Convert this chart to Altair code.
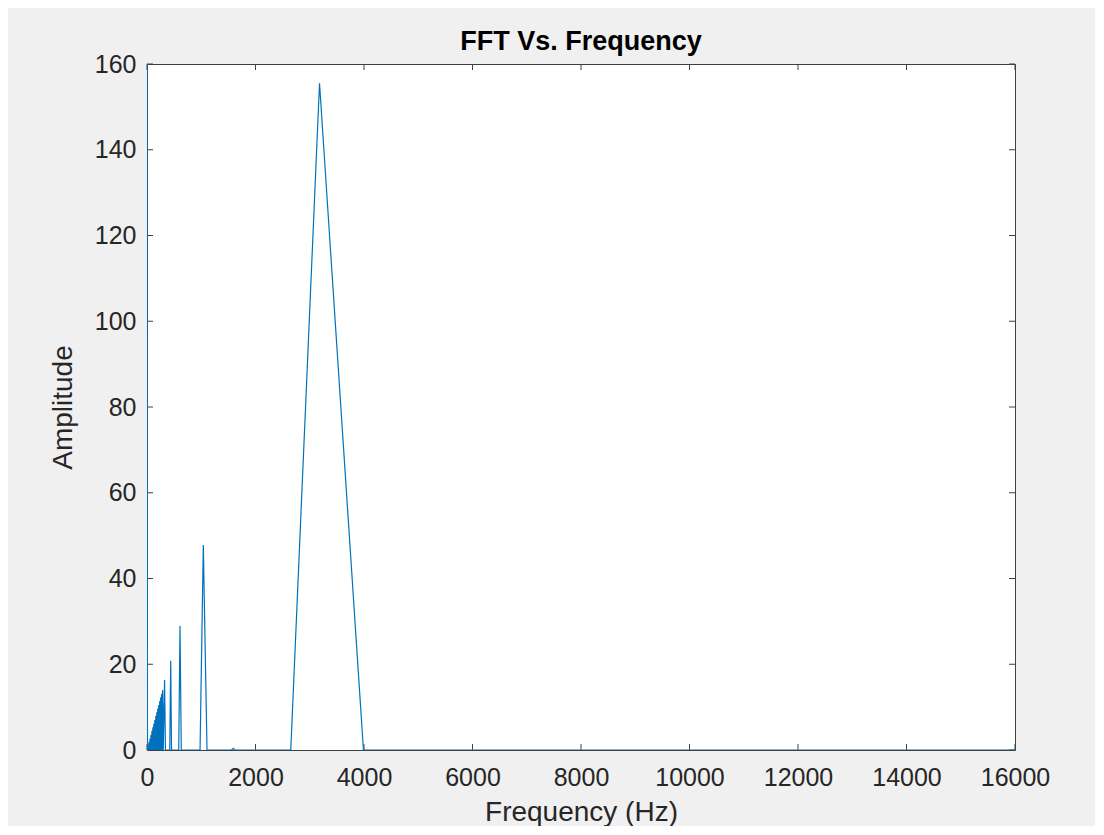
import altair as alt
import pandas as pd

# Spectrum samples (Hz, amplitude)
freq = [0, 9, 18, 27, 36, 45, 54, 63, 72, 81, 90, 99, 108, 117, 126, 135, 144, 153,
        162, 171, 180, 189, 198, 207, 216, 225, 234, 243, 252, 261, 270, 279, 288, 300,
        324, 340, 420, 437, 452, 585, 608, 632, 978, 1038, 1106, 1560, 1590, 1620,
        2650, 3180, 3990, 16000]
amp = [180, 0, 0.9, 0, 1.8, 0, 2.6, 0, 3.5, 0, 4.4, 0, 5.3, 0, 6.1, 0, 7.0, 0,
       7.9, 0, 8.8, 0, 9.6, 0, 10.5, 0, 11.4, 0, 12.3, 0, 13.1, 0, 14.0, 0,
       16.3, 0, 0, 20.8, 0, 0, 28.9, 0, 0, 47.8, 0, 0, 0.4, 0,
       0, 155.5, 0, 0]

x_ticks = [0, 2000, 4000, 6000, 8000, 10000, 12000, 14000, 16000]
y_ticks = [0, 20, 40, 60, 80, 100, 120, 140, 160]
title_text = ["FFT Vs. Frequency"]

W, H = 868, 686
FONT = "Liberation Sans"
TXT = "#262626"
BLUE = "#0072BD"
TICKC = "#404040"

df = pd.DataFrame({"freq": freq, "amp": amp})
dx = pd.DataFrame({"freq": x_ticks})
dy = pd.DataFrame({"amp": y_ticks})
dt = pd.DataFrame({"t": title_text})

xscale = alt.Scale(domain=[0, 16000], nice=False, zero=False)
yscale = alt.Scale(domain=[0, 160], nice=False, zero=False)

xaxis = alt.Axis(values=x_ticks, title="Frequency (Hz)", format="d",
                 labelFontSize=25, labelFont=FONT, labelColor=TXT,
                 tickSize=0, domain=False, grid=False, labelPadding=15,
                 labelFlush=False,
                 titleFontSize=28, titleFont=FONT, titleFontWeight="normal",
                 titleColor=TXT, titleBaseline="alphabetic", titleY=70)
yaxis = alt.Axis(values=y_ticks, title="Amplitude", format="d",
                 labelFontSize=25, labelFont=FONT, labelColor=TXT,
                 tickSize=0, domain=False, grid=False, labelPadding=11,
                 labelFlush=False,
                 titleFontSize=28, titleFont=FONT, titleFontWeight="normal",
                 titleColor=TXT, titleBaseline="middle", titleAlign="center",
                 titleX=-84, titleY=H / 2)

line = alt.Chart(df).mark_line(color=BLUE, strokeWidth=1.2, clip=True).encode(
    x=alt.X("freq:Q", scale=xscale, axis=xaxis),
    y=alt.Y("amp:Q", scale=yscale, axis=yaxis),
)

tick_b = alt.Chart(dx).mark_rule(color=TICKC, strokeWidth=1).encode(
    x=alt.X("freq:Q", scale=xscale, axis=xaxis), y=alt.value(H), y2=alt.value(H - 6))
tick_t = alt.Chart(dx).mark_rule(color=TICKC, strokeWidth=1).encode(
    x=alt.X("freq:Q", scale=xscale, axis=xaxis), y=alt.value(0), y2=alt.value(6))
tick_l = alt.Chart(dy).mark_rule(color=TICKC, strokeWidth=1).encode(
    y=alt.Y("amp:Q", scale=yscale, axis=yaxis), x=alt.value(0), x2=alt.value(6))
tick_r = alt.Chart(dy).mark_rule(color=TICKC, strokeWidth=1).encode(
    y=alt.Y("amp:Q", scale=yscale, axis=yaxis), x=alt.value(W), x2=alt.value(W - 6))

title = alt.Chart(dt).mark_text(font=FONT, fontSize=27, fontWeight="bold",
                                color="#000000", align="center",
                                baseline="alphabetic").encode(
    text="t:N", x=alt.value(W / 2), y=alt.value(-14))

chart = alt.layer(tick_b, tick_t, tick_l, tick_r, line, title).properties(
    width=W, height=H,
    autosize=alt.AutoSizeParams(type="none"),
    padding={"left": 139, "top": 56, "right": 80, "bottom": 76},
    background="#f0f0f0",
).configure_view(stroke=TICKC, strokeWidth=1, fill="white")

chart.save("out.html", embed_options={"renderer": "svg", "actions": False})
